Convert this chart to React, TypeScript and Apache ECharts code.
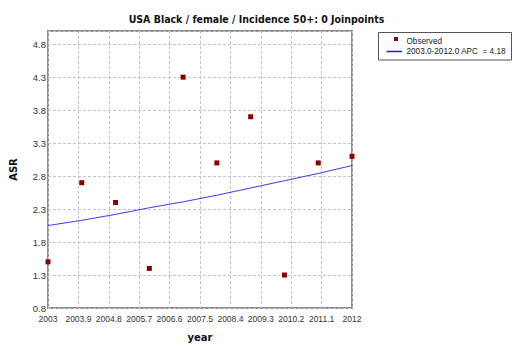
import React, { useEffect, useRef } from "react";
import * as echarts from "echarts";

const titleText = "USA Black / female / Incidence 50+: 0 Joinpoints";
const years = [2003, 2004, 2005, 2006, 2007, 2008, 2009, 2010, 2011, 2012];
const observed = [1.5, 2.7, 2.4, 1.4, 4.3, 3.0, 3.7, 1.3, 3.0, 3.1];
const fitted = [2.05, 2.13, 2.22, 2.32, 2.41, 2.51, 2.62, 2.73, 2.84, 2.96];
const xStart = 2003;
const xEnd = 2012;
const xStep = 0.9;
const yStart = 0.8;
const yTop = 5.0;
const yStep = 0.5;
const yLastLabel = 4.8;
const legendObserved = "Observed";
const legendFit = "2003.0-2012.0 APC  = 4.18";

export default function App() {
  const ref = useRef<HTMLDivElement>(null);
  useEffect(() => {
    if (!ref.current) return;
    const chart = echarts.init(ref.current, null, { renderer: "svg" });
    const obsData = years.map((y, i) => [y - xStart, observed[i] - yStart]);
    const fitData = years.map((y, i) => [y - xStart, fitted[i] - yStart]);
    const labelFont = "Liberation Sans";
    chart.setOption({
      animation: false,
      backgroundColor: "#ffffff",
      title: {
        text: titleText,
        left: "center",
        top: 8,
        textStyle: { fontFamily: "'DejaVu Sans Condensed', 'DejaVu Sans'", fontWeight: "bold", fontSize: 10.5, color: "#111" },
      },
      grid: {
        left: 48,
        top: 31,
        width: 304,
        height: 282,
        show: true,
        borderColor: "#8c8c8c",
        borderWidth: 2,
        backgroundColor: "transparent",
      },
      xAxis: {
        type: "value",
        min: 0,
        max: xEnd - xStart,
        interval: xStep,
        name: "year",
        nameLocation: "middle",
        nameGap: 24,
        nameTextStyle: { fontFamily: "DejaVu Sans", fontWeight: "bold", fontSize: 10, color: "#111" },
        axisLine: { show: false },
        axisTick: { show: false },
        axisLabel: {
          margin: 6,
          fontFamily: labelFont,
          fontSize: 8.5,
          color: "#333",
          formatter: (v: number) => {
            const y = Math.round((xStart + v) * 10) / 10;
            return Number.isInteger(y) ? String(y) : y.toFixed(1);
          },
        },
        splitLine: { show: true, lineStyle: { color: "#c4c4c4", type: [3, 2], width: 1 } },
      },
      yAxis: {
        type: "value",
        min: 0,
        max: yTop - yStart,
        interval: yStep,
        name: "ASR",
        nameLocation: "middle",
        nameGap: 30,
        nameTextStyle: { fontFamily: "DejaVu Sans", fontWeight: "bold", fontSize: 10, color: "#111" },
        axisLine: { show: false },
        axisTick: { show: false },
        axisLabel: {
          margin: 2,
          fontFamily: labelFont,
          fontSize: 9.5,
          color: "#333",
          formatter: (v: number) => {
            const y = Math.round((yStart + v) * 10) / 10;
            return y > yLastLabel + 0.01 ? "" : y.toFixed(1);
          },
        },
        splitLine: { show: true, lineStyle: { color: "#c4c4c4", type: [3, 2], width: 1 } },
      },
      series: [
        {
          name: legendFit,
          type: "line",
          data: fitData,
          symbol: "none",
          lineStyle: { color: "#3a3af5", width: 1 },
          z: 2,
        },
        {
          name: legendObserved,
          type: "scatter",
          data: obsData,
          symbol: "rect",
          symbolSize: 5,
          itemStyle: { color: "#8b0000", opacity: 1 },
          z: 3,
        },
      ],
      graphic: [
        {
          type: "rect",
          shape: { x: 378.5, y: 32.5, width: 133, height: 27.5 },
          style: { fill: "#fff", stroke: "#555", lineWidth: 1 },
        },
        {
          type: "rect",
          shape: { x: 394, y: 37, width: 4, height: 4 },
          style: { fill: "#8b0000" },
        },
        {
          type: "line",
          shape: { x1: 386.5, y1: 51.5, x2: 402, y2: 51.5 },
          style: { stroke: "#1a1aff", lineWidth: 1.5 },
        },
        {
          type: "text",
          x: 406.5,
          y: 41.5,
          style: { text: legendObserved, fontFamily: labelFont, fontSize: 8.2, fill: "#222", verticalAlign: "middle" },
        },
        {
          type: "text",
          x: 406.5,
          y: 51,
          style: { text: legendFit, fontFamily: labelFont, fontSize: 8.2, fill: "#222", verticalAlign: "middle" },
        },
      ],
    });
    return () => chart.dispose();
  }, []);
  return (
    <div
      ref={ref}
      style={{ position: "fixed", left: 0, top: 0, width: 513, height: 347 }}
    />
  );
}
